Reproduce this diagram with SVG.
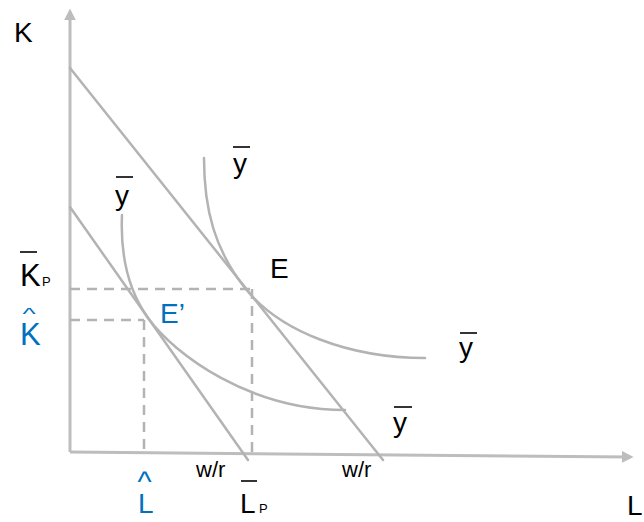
<svg xmlns="http://www.w3.org/2000/svg" width="644" height="522" viewBox="0 0 644 522">
<style>
.ln{fill:none;stroke:#b3b3b3;stroke-width:2.5;stroke-linecap:round}
.ax{fill:none;stroke:#bdbdbd;stroke-width:3}
.ds{fill:none;stroke:#b3b3b3;stroke-width:2.5;stroke-dasharray:10 7}
.t{font-family:"Liberation Sans",Arial,sans-serif;fill:#000}
.b{fill:#0070C0}
.bar{stroke:#000;stroke-width:1.6}
</style>
<defs>
<marker id="ah" viewBox="0 0 10 10" refX="7" refY="5" markerWidth="4" markerHeight="4" orient="auto-start-reverse">
<path d="M0,0 L10,5 L0,10 z" fill="#bdbdbd"/>
</marker>
</defs>
<g id="axes">
<line class="ax" x1="70" y1="452" x2="70" y2="12" marker-end="url(#ah)"/>
<line class="ax" x1="70" y1="452" x2="630" y2="457" marker-end="url(#ah)"/>
</g>
<g id="connectors">
<line class="ln" x1="70" y1="68" x2="383" y2="460"/>
<line class="ln" x1="70" y1="207" x2="248" y2="460"/>
<path class="ln" d="M204,158 C204,210 215,250 245,288 C280,332 350,358 425,358"/>
<path class="ln" d="M122,215 C120,260 131,294 148,318 C175,355 250,410 345,410"/>
<path class="ds" d="M70,289 H250 M252,289 V452"/>
<path class="ds" d="M70,320 H144 M144,320 V452"/>
</g>
<g id="labels">
<text class="t" x="14" y="42" font-size="28">K</text>
<text class="t" x="627" y="515" font-size="28">L</text>
<text class="t" x="270" y="278" font-size="28">E</text>
<text class="t b" x="160" y="323" font-size="28">E’</text>
<g id="Kp"><line class="bar" x1="20" y1="252" x2="37" y2="252"/><text class="t" x="20" y="286" font-size="31">K</text><text class="t" x="42" y="286" font-size="13">P</text></g>
<g id="Khat"><text class="t b" font-size="28" transform="translate(22.5,320) scale(1,0.6)">^</text><text class="t b" x="20" y="345" font-size="31">K</text></g>
<g id="Lhat"><text class="t b" x="137.5" y="492" font-size="30">^</text><text class="t b" x="138" y="513" font-size="28">L</text></g>
<g id="Lp"><line class="bar" x1="241" y1="481" x2="257" y2="481"/><text class="t" x="240" y="513" font-size="28">L</text><text class="t" x="259" y="513" font-size="13">P</text></g>
<text class="t" x="196" y="477" font-size="22">w/r</text>
<text class="t" x="342" y="477" font-size="22">w/r</text>
<g id="y1"><line class="bar" x1="233" y1="147" x2="250" y2="147"/><text class="t" x="233" y="173" font-size="28">y</text></g>
<g id="y2"><line class="bar" x1="116" y1="177" x2="133" y2="177"/><text class="t" x="115" y="205" font-size="28">y</text></g>
<g id="y3"><line class="bar" x1="460" y1="333" x2="477" y2="333"/><text class="t" x="459" y="357" font-size="28">y</text></g>
<g id="y4"><line class="bar" x1="394" y1="407" x2="412" y2="407"/><text class="t" x="393" y="432" font-size="28">y</text></g>
</g>
</svg>
